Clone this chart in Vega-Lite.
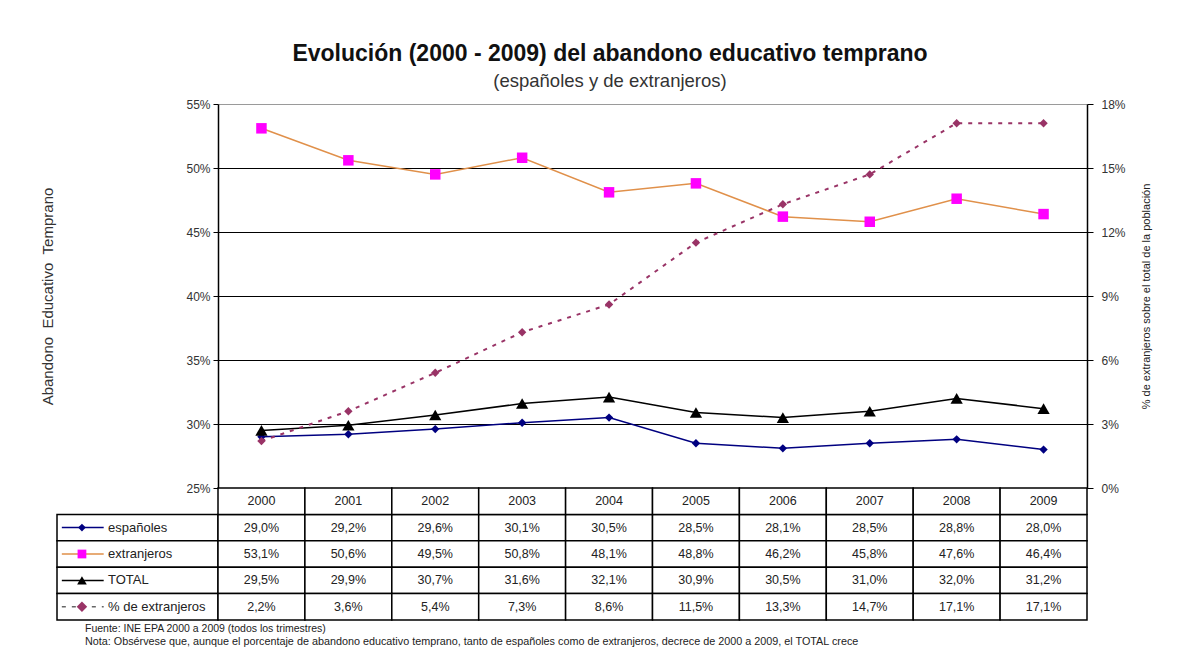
{
  "$schema": "https://vega.github.io/schema/vega-lite/v6.json",
  "autosize": {"type": "pad"},
  "padding": {"left": 40, "top": 42, "right": 5, "bottom": 5},
  "background": "white",
  "config": {
    "locale": {"number": {"decimal": ",", "thousands": ".", "grouping": [3], "currency": ["", " €"]}},
    "font": "Liberation Sans",
    "view": {"stroke": null},
    "axis": {"labelFont": "Liberation Sans", "titleFont": "Liberation Sans"}
  },
  "title": {
    "text": "Evolución (2000 - 2009) del abandono educativo temprano",
    "subtitle": "(españoles y de extranjeros)",
    "anchor": "middle",
    "frame": "bounds",
    "dx": 14,
    "fontSize": 23,
    "fontWeight": "bold",
    "color": "#111111",
    "subtitleFontSize": 18.5,
    "subtitleColor": "#333333",
    "subtitlePadding": 6,
    "offset": 8
  },
  "resolve": {"scale": {"stroke": "independent", "fill": "independent", "shape": "independent", "size": "independent", "strokeDash": "independent", "x": "independent", "y": "independent"}},
  "data": {
    "values": [
      {"year": "2000", "series": "españoles", "value": 0.290},
      {"year": "2001", "series": "españoles", "value": 0.292},
      {"year": "2002", "series": "españoles", "value": 0.296},
      {"year": "2003", "series": "españoles", "value": 0.301},
      {"year": "2004", "series": "españoles", "value": 0.305},
      {"year": "2005", "series": "españoles", "value": 0.285},
      {"year": "2006", "series": "españoles", "value": 0.281},
      {"year": "2007", "series": "españoles", "value": 0.285},
      {"year": "2008", "series": "españoles", "value": 0.288},
      {"year": "2009", "series": "españoles", "value": 0.280},
      {"year": "2000", "series": "extranjeros", "value": 0.531},
      {"year": "2001", "series": "extranjeros", "value": 0.506},
      {"year": "2002", "series": "extranjeros", "value": 0.495},
      {"year": "2003", "series": "extranjeros", "value": 0.508},
      {"year": "2004", "series": "extranjeros", "value": 0.481},
      {"year": "2005", "series": "extranjeros", "value": 0.488},
      {"year": "2006", "series": "extranjeros", "value": 0.462},
      {"year": "2007", "series": "extranjeros", "value": 0.458},
      {"year": "2008", "series": "extranjeros", "value": 0.476},
      {"year": "2009", "series": "extranjeros", "value": 0.464},
      {"year": "2000", "series": "TOTAL", "value": 0.295},
      {"year": "2001", "series": "TOTAL", "value": 0.299},
      {"year": "2002", "series": "TOTAL", "value": 0.307},
      {"year": "2003", "series": "TOTAL", "value": 0.316},
      {"year": "2004", "series": "TOTAL", "value": 0.321},
      {"year": "2005", "series": "TOTAL", "value": 0.309},
      {"year": "2006", "series": "TOTAL", "value": 0.305},
      {"year": "2007", "series": "TOTAL", "value": 0.310},
      {"year": "2008", "series": "TOTAL", "value": 0.320},
      {"year": "2009", "series": "TOTAL", "value": 0.312},
      {"year": "2000", "series": "% de extranjeros", "value": 0.022},
      {"year": "2001", "series": "% de extranjeros", "value": 0.036},
      {"year": "2002", "series": "% de extranjeros", "value": 0.054},
      {"year": "2003", "series": "% de extranjeros", "value": 0.073},
      {"year": "2004", "series": "% de extranjeros", "value": 0.086},
      {"year": "2005", "series": "% de extranjeros", "value": 0.115},
      {"year": "2006", "series": "% de extranjeros", "value": 0.133},
      {"year": "2007", "series": "% de extranjeros", "value": 0.147},
      {"year": "2008", "series": "% de extranjeros", "value": 0.171},
      {"year": "2009", "series": "% de extranjeros", "value": 0.171}
    ]
  },
  "columns": 2,
  "bounds": "flush",
  "spacing": 0,
  "concat": [
    {
      "width": 161,
      "height": 384,
      "data": {"values": [{}]},
      "mark": {"type": "text", "text": ""},
      "encoding": {}
    },
    {
      "width": 869,
      "height": 384,
      "layer": [
        {
          "transform": [{"filter": "datum.series != '% de extranjeros'"}],
          "encoding": {
            "x": {"field": "year", "type": "ordinal", "scale": {"type": "point", "padding": 0.5}, "axis": null},
            "y": {
              "field": "value", "type": "quantitative",
              "scale": {"domain": [0.25, 0.55], "zero": false},
              "axis": {
                "orient": "left",
                "values": [0.25, 0.3, 0.35, 0.4, 0.45, 0.5, 0.55],
                "format": ".0%",
                "title": "Abandono\u00a0\u00a0Educativo\u00a0\u00a0Temprano",
                "titleFontSize": 15,
                "titleFontWeight": "normal",
                "titleColor": "#333333",
                "titlePadding": 130,
                "labelFontSize": 12,
                "labelColor": "#333333",
                "labelPadding": 3,
                "tickColor": "black",
                "tickSize": 5,
                "domainColor": "black",
                "domainWidth": 1.5,
                "grid": true,
                "gridColor": {"condition": {"test": "datum.value >= 0.549", "value": "#9a9a9a"}, "value": "black"},
                "gridWidth": 1.2
              }
            }
          },
          "layer": [
            {
              "mark": {"type": "line", "strokeWidth": 1.5},
              "encoding": {
                "stroke": {"field": "series", "type": "nominal", "scale": {"domain": ["españoles", "extranjeros", "TOTAL"], "range": ["#000080", "#E0904A", "#000000"]}, "legend": null}
              }
            },
            {
              "mark": {"type": "point", "filled": true, "opacity": 1},
              "encoding": {
                "fill": {"field": "series", "type": "nominal", "scale": {"domain": ["españoles", "extranjeros", "TOTAL"], "range": ["#000080", "#FF00FF", "#000000"]}, "legend": null},
                "shape": {"field": "series", "type": "nominal", "scale": {"domain": ["españoles", "extranjeros", "TOTAL"], "range": ["diamond", "square", "triangle-up"]}, "legend": null},
                "size": {"field": "series", "type": "nominal", "scale": {"domain": ["españoles", "extranjeros", "TOTAL"], "range": [70, 150, 80]}, "legend": null}
              }
            }
          ]
        },
        {
          "transform": [{"filter": "datum.series == '% de extranjeros'"}],
          "encoding": {
            "x": {"field": "year", "type": "ordinal", "scale": {"type": "point", "padding": 0.5}, "axis": null},
            "y": {
              "field": "value", "type": "quantitative",
              "scale": {"domain": [0, 0.18]},
              "axis": {
                "orient": "right",
                "values": [0, 0.03, 0.06, 0.09, 0.12, 0.15, 0.18],
                "format": ".0%",
                "title": "% de extranjeros sobre el total de la población",
                "titleAngle": 270,
                "titleFontSize": 11,
                "titleFontWeight": "normal",
                "titleColor": "#222222",
                "titlePadding": 26,
                "labelFontSize": 12,
                "labelColor": "#333333",
                "labelPadding": 8,
                "tickColor": "black",
                "tickSize": 6,
                "domainColor": "black",
                "domainWidth": 1.5,
                "grid": false
              }
            }
          },
          "layer": [
            {"mark": {"type": "line", "color": "#993366", "strokeDash": [4, 6], "strokeWidth": 2}},
            {"mark": {"type": "point", "filled": true, "shape": "diamond", "size": 70, "color": "#993366", "opacity": 1}}
          ]
        }
      ],
      "resolve": {"scale": {"y": "independent"}}
    },
    {
      "width": 161,
      "height": 132,
      "title": {
        "text": "Fuente: INE EPA 2000 a 2009 (todos los trimestres)",
        "subtitle": "Nota: Obsérvese que, aunque el porcentaje de abandono educativo temprano, tanto de españoles como de extranjeros, decrece de 2000 a 2009, el TOTAL crece",
        "orient": "bottom",
        "anchor": "start",
        "frame": "group",
        "dx": 28,
        "fontSize": 10.5,
        "fontWeight": "normal",
        "color": "#222222",
        "subtitleFontSize": 10.8,
        "subtitleColor": "#222222",
        "subtitlePadding": 2,
        "offset": 3
      },
      "transform": [{"filter": "datum.year == '2000'"}],
      "encoding": {
        "y": {"field": "series", "type": "nominal", "scale": {"domain": ["año", "españoles", "extranjeros", "TOTAL", "% de extranjeros"], "paddingInner": 0, "paddingOuter": 0}, "axis": null}
      },
      "layer": [
        {"mark": {"type": "rect", "fill": "white", "stroke": "black", "strokeWidth": 1.5}},
        {
          "mark": {"type": "rule", "strokeWidth": 1.5},
          "encoding": {
            "x": {"datum": 0.03, "type": "quantitative", "scale": {"domain": [0, 1]}, "axis": null},
            "x2": {"datum": 0.29},
            "stroke": {"field": "series", "type": "nominal", "scale": {"domain": ["españoles", "extranjeros", "TOTAL", "% de extranjeros"], "range": ["#000080", "#E0904A", "#000000", "#666666"]}, "legend": null},
            "strokeDash": {"field": "series", "type": "nominal", "scale": {"domain": ["españoles", "extranjeros", "TOTAL", "% de extranjeros"], "range": [[1, 0], [1, 0], [1, 0], [4, 6]]}, "legend": null}
          }
        },
        {
          "mark": {"type": "point", "filled": true, "opacity": 1},
          "encoding": {
            "x": {"datum": 0.155, "type": "quantitative"},
            "fill": {"field": "series", "type": "nominal", "scale": {"domain": ["españoles", "extranjeros", "TOTAL", "% de extranjeros"], "range": ["#000080", "#FF00FF", "#000000", "#993366"]}, "legend": null},
            "shape": {"field": "series", "type": "nominal", "scale": {"domain": ["españoles", "extranjeros", "TOTAL", "% de extranjeros"], "range": ["diamond", "square", "triangle-up", "diamond"]}, "legend": null},
            "size": {"field": "series", "type": "nominal", "scale": {"domain": ["españoles", "extranjeros", "TOTAL", "% de extranjeros"], "range": [60, 110, 70, 60]}, "legend": null}
          }
        },
        {
          "mark": {"type": "text", "align": "left", "fontSize": 13, "color": "#222222"},
          "encoding": {
            "x": {"datum": 0.317, "type": "quantitative"},
            "text": {"field": "series", "type": "nominal"}
          }
        }
      ]
    },
    {
      "width": 869,
      "height": 132,
      "encoding": {
        "x": {"field": "year", "type": "ordinal", "scale": {"type": "band", "paddingInner": 0, "paddingOuter": 0}, "axis": null},
        "y": {"field": "series", "type": "nominal", "scale": {"domain": ["año", "españoles", "extranjeros", "TOTAL", "% de extranjeros"], "paddingInner": 0, "paddingOuter": 0}, "axis": null}
      },
      "layer": [
        {"mark": {"type": "rect", "fill": "white", "stroke": "black", "strokeWidth": 1.5}},
        {
          "transform": [{"filter": "datum.series == 'españoles'"}],
          "mark": {"type": "rect", "fill": "white", "stroke": "black", "strokeWidth": 1.5},
          "encoding": {"y": {"datum": "año", "type": "nominal"}}
        },
        {
          "mark": {"type": "text", "fontSize": 12.5, "color": "#222222"},
          "encoding": {"text": {"field": "value", "type": "quantitative", "format": ".1%"}}
        },
        {
          "transform": [{"filter": "datum.series == 'españoles'"}],
          "mark": {"type": "text", "fontSize": 12.5, "color": "#222222"},
          "encoding": {"y": {"datum": "año", "type": "nominal"}, "text": {"field": "year", "type": "nominal"}}
        }
      ]
    }
  ]
}
